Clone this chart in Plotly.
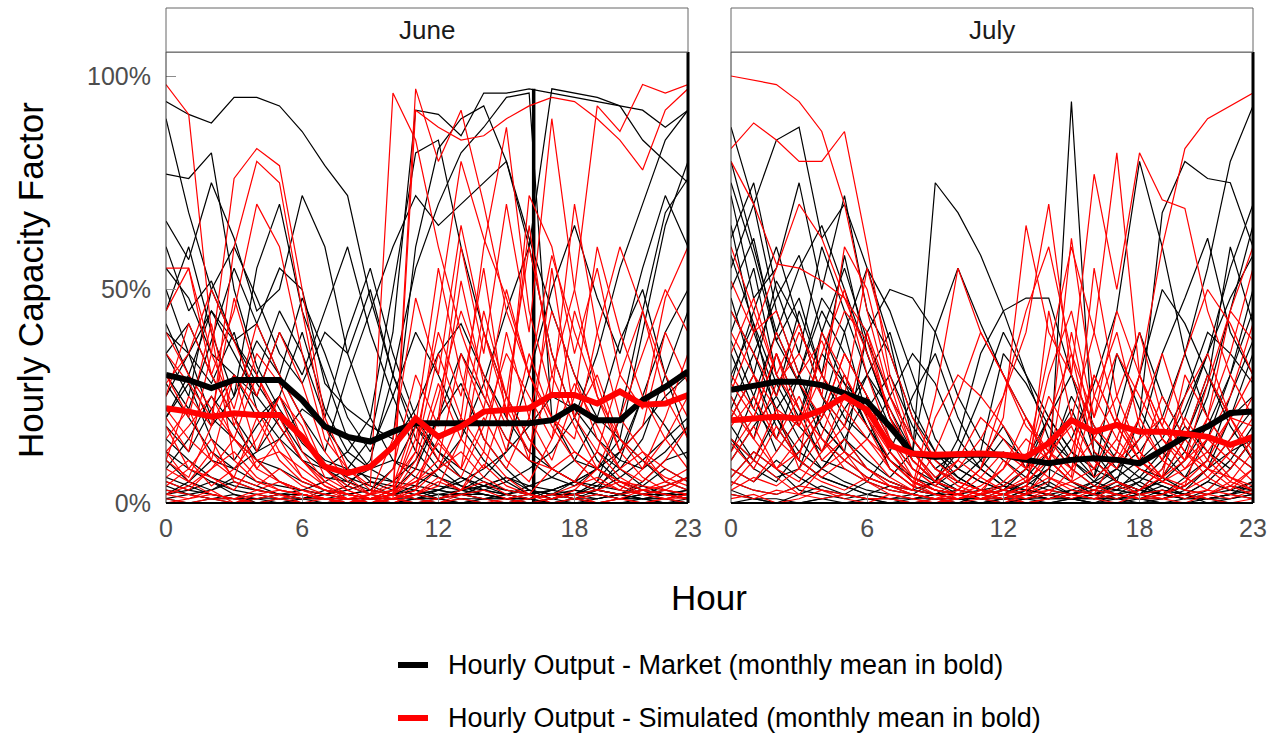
import plotly.graph_objects as go

HOURS = list(range(24))

# Daily hourly capacity factor (%) - June, market output
june_market = [
    [94, 91, 89, 95, 95, 93, 87, 79, 72, 48, 30, 18, 10, 6, 4, 3, 2, 3, 2, 1, 2, 3, 2, 1],
    [90, 68, 50, 38, 28, 20, 12, 8, 5, 3, 2, 1, 1, 2, 3, 5, 8, 12, 20, 35, 55, 70, 85, 92],
    [77, 76, 82, 50, 32, 22, 14, 9, 6, 4, 2, 1, 2, 3, 4, 6, 4, 3, 5, 8, 12, 18, 25, 30],
    [66, 57, 75, 62, 45, 50, 72, 60, 35, 20, 10, 8, 6, 4, 3, 2, 1, 2, 1, 3, 6, 10, 15, 20],
    [5, 3, 2, 1, 1, 2, 3, 5, 8, 15, 40, 92, 91, 86, 96, 96, 97, 96, 95, 94, 93, 85, 80, 75],
    [40, 35, 45, 38, 42, 55, 50, 28, 22, 18, 15, 60, 83, 90, 93, 80, 62, 45, 30, 20, 15, 40, 65, 80],
    [45, 60, 40, 25, 55, 70, 45, 30, 15, 8, 5, 10, 20, 28, 15, 8, 3, 2, 5, 12, 8, 4, 2, 3],
    [30, 22, 38, 55, 42, 30, 48, 35, 20, 12, 25, 40, 30, 18, 10, 5, 2, 1, 3, 2, 1, 2, 4, 6],
    [20, 28, 15, 10, 18, 25, 40, 22, 12, 8, 10, 6, 4, 3, 2, 1, 0, 1, 2, 5, 20, 45, 68, 76],
    [12, 8, 5, 3, 2, 1, 1, 2, 4, 10, 30, 55, 70, 82, 88, 95, 96, 20, 10, 8, 5, 3, 2, 2],
    [8, 15, 25, 18, 10, 5, 3, 2, 1, 1, 2, 4, 8, 15, 28, 45, 60, 97, 96, 95, 93, 92, 88, 92],
    [3, 2, 1, 1, 0, 0, 1, 2, 3, 5, 4, 3, 2, 1, 1, 0, 0, 1, 2, 3, 2, 1, 1, 0],
    [15, 10, 6, 4, 3, 2, 2, 1, 1, 0, 1, 2, 3, 2, 1, 1, 2, 3, 5, 4, 3, 2, 2, 1],
    [55, 48, 35, 30, 20, 25, 15, 10, 8, 6, 5, 4, 3, 2, 2, 1, 1, 2, 2, 3, 10, 25, 40, 50],
    [25, 35, 20, 15, 10, 8, 5, 3, 2, 3, 8, 18, 12, 6, 3, 2, 1, 0, 1, 2, 1, 1, 2, 3],
    [2, 5, 10, 8, 12, 20, 15, 8, 4, 2, 1, 0, 1, 3, 6, 12, 30, 50, 65, 48, 35, 55, 72, 60],
    [10, 5, 3, 6, 4, 2, 1, 1, 0, 1, 3, 8, 20, 35, 25, 15, 10, 6, 4, 8, 15, 10, 5, 3],
    [35, 42, 30, 20, 12, 15, 22, 18, 10, 5, 3, 2, 1, 2, 4, 6, 3, 2, 1, 1, 2, 4, 8, 5],
    [18, 12, 22, 30, 25, 18, 10, 6, 5, 8, 14, 22, 35, 42, 30, 20, 12, 8, 5, 3, 2, 5, 10, 12],
    [6, 4, 2, 1, 1, 1, 2, 1, 0, 0, 1, 1, 2, 2, 1, 1, 1, 2, 1, 0, 1, 1, 2, 1],
    [42, 30, 18, 25, 38, 30, 20, 12, 30, 45, 60, 72, 65, 70, 75, 80, 60, 35, 20, 10, 5, 3, 2, 1],
    [1, 2, 3, 5, 3, 2, 1, 1, 2, 3, 2, 1, 1, 0, 1, 2, 4, 6, 10, 20, 38, 50, 30, 15],
    [50, 35, 28, 40, 22, 15, 10, 8, 12, 20, 50, 82, 85, 60, 40, 25, 15, 8, 5, 3, 2, 1, 1, 2],
    [28, 20, 12, 8, 5, 4, 3, 2, 1, 1, 1, 2, 3, 5, 8, 12, 18, 25, 22, 15, 10, 8, 12, 18],
    [4, 2, 1, 0, 1, 2, 1, 0, 0, 1, 2, 3, 1, 0, 1, 2, 3, 1, 0, 1, 2, 1, 0, 1],
    [60, 45, 52, 38, 30, 45, 35, 20, 40, 55, 35, 20, 12, 8, 5, 3, 2, 1, 2, 4, 8, 15, 30, 45],
    [2, 3, 5, 2, 1, 0, 1, 3, 2, 1, 0, 1, 3, 6, 4, 2, 1, 3, 5, 8, 4, 2, 1, 0],
    [1, 0, 1, 2, 0, 1, 0, 0, 1, 0, 0, 1, 0, 1, 0, 0, 1, 0, 1, 0, 0, 1, 0, 0],
    [20, 30, 45, 35, 25, 40, 30, 45, 60, 40, 25, 12, 6, 3, 2, 1, 1, 2, 3, 2, 1, 2, 3, 2],
    [35, 25, 50, 60, 48, 35, 28, 40, 35, 50, 30, 15, 8, 4, 2, 1, 0, 1, 2, 5, 12, 25, 18, 10],
]

# Daily hourly capacity factor (%) - June, simulated output
june_sim = [
    [98, 91, 40, 10, 5, 3, 2, 1, 1, 2, 3, 5, 8, 12, 6, 3, 2, 1, 2, 3, 5, 4, 3, 2],
    [55, 55, 30, 45, 70, 60, 35, 15, 8, 4, 96, 85, 60, 40, 25, 15, 10, 8, 5, 3, 2, 3, 5, 8],
    [20, 12, 35, 76, 83, 79, 50, 20, 8, 3, 2, 97, 80, 92, 70, 45, 30, 20, 12, 8, 5, 3, 2, 1],
    [10, 25, 18, 60, 80, 75, 45, 18, 6, 2, 1, 92, 88, 85, 86, 90, 93, 95, 94, 90, 85, 78, 92, 97],
    [5, 3, 8, 15, 30, 20, 10, 5, 2, 1, 3, 15, 40, 25, 55, 20, 65, 30, 50, 93, 87, 98, 96, 98],
    [30, 20, 42, 18, 35, 28, 15, 8, 4, 2, 5, 12, 35, 20, 60, 88, 45, 25, 70, 40, 20, 12, 8, 5],
    [15, 22, 10, 30, 12, 25, 18, 6, 3, 1, 2, 8, 25, 45, 30, 18, 72, 60, 35, 55, 30, 45, 25, 15],
    [8, 5, 12, 6, 20, 10, 5, 3, 2, 1, 1, 4, 15, 8, 40, 25, 10, 55, 20, 30, 15, 8, 20, 35],
    [40, 30, 22, 15, 10, 12, 8, 4, 2, 1, 0, 2, 5, 3, 12, 6, 2, 1, 3, 8, 4, 2, 1, 2],
    [25, 42, 30, 20, 8, 15, 6, 3, 1, 0, 1, 3, 20, 60, 35, 70, 40, 90, 50, 25, 12, 6, 3, 2],
    [3, 2, 1, 1, 2, 3, 2, 1, 0, 0, 1, 2, 1, 3, 5, 2, 1, 2, 4, 6, 3, 2, 1, 1],
    [12, 18, 25, 15, 8, 5, 3, 2, 1, 2, 8, 30, 18, 52, 28, 12, 35, 20, 15, 40, 60, 45, 30, 20],
    [6, 10, 4, 8, 15, 25, 12, 5, 2, 1, 2, 5, 10, 6, 18, 35, 25, 15, 45, 28, 12, 18, 40, 28],
    [35, 28, 20, 48, 30, 18, 10, 4, 1, 1, 3, 12, 45, 80, 62, 48, 30, 58, 40, 25, 15, 10, 6, 4],
    [18, 8, 15, 5, 3, 2, 1, 1, 0, 1, 2, 6, 14, 8, 20, 10, 5, 15, 28, 18, 8, 12, 5, 3],
    [2, 4, 8, 12, 6, 3, 2, 1, 1, 0, 1, 2, 4, 15, 8, 25, 60, 35, 20, 12, 30, 22, 48, 60],
    [45, 55, 35, 22, 42, 30, 20, 8, 3, 1, 2, 10, 28, 15, 45, 25, 15, 8, 12, 8, 20, 35, 50, 40],
    [10, 6, 18, 30, 22, 12, 6, 3, 2, 1, 1, 3, 8, 20, 12, 40, 20, 10, 25, 60, 40, 25, 15, 8],
    [22, 15, 10, 6, 4, 8, 4, 2, 1, 0, 2, 18, 55, 30, 15, 8, 20, 45, 30, 15, 8, 5, 10, 18],
    [0, 1, 2, 1, 0, 1, 2, 1, 0, 0, 1, 0, 1, 2, 1, 0, 1, 2, 1, 2, 1, 0, 1, 2],
    [28, 35, 50, 38, 25, 40, 28, 12, 5, 2, 4, 20, 10, 35, 22, 50, 30, 18, 10, 5, 3, 8, 15, 25],
    [4, 8, 6, 3, 10, 5, 3, 1, 1, 0, 0, 2, 6, 3, 9, 4, 2, 8, 5, 12, 6, 3, 4, 6],
    [2, 1, 3, 0, 1, 2, 0, 1, 0, 1, 2, 1, 0, 2, 3, 1, 0, 1, 2, 0, 1, 3, 2, 1],
    [12, 5, 2, 1, 3, 5, 2, 1, 0, 2, 15, 48, 30, 65, 40, 22, 12, 30, 18, 8, 5, 2, 3, 6],
    [1, 0, 1, 0, 2, 1, 0, 0, 1, 0, 1, 0, 0, 1, 0, 1, 2, 0, 1, 0, 1, 0, 1, 0],
]

# Daily hourly capacity factor (%) - July, market output
july_market = [
    [88, 70, 85, 88, 62, 70, 55, 45, 30, 15, 8, 5, 3, 2, 1, 3, 5, 8, 12, 20, 35, 55, 80, 93],
    [80, 60, 40, 55, 65, 50, 35, 20, 10, 5, 3, 2, 1, 2, 4, 94, 10, 5, 3, 2, 4, 8, 15, 22],
    [72, 48, 55, 75, 50, 72, 45, 35, 20, 12, 6, 3, 2, 1, 0, 1, 2, 5, 20, 68, 80, 76, 75, 60],
    [65, 40, 25, 45, 30, 58, 35, 20, 12, 75, 68, 58, 45, 30, 20, 12, 8, 5, 3, 2, 1, 2, 3, 5],
    [55, 70, 45, 30, 48, 40, 55, 38, 15, 8, 5, 3, 2, 4, 8, 15, 28, 45, 80, 60, 35, 20, 12, 8],
    [48, 30, 52, 42, 25, 18, 30, 22, 12, 6, 3, 2, 4, 8, 15, 10, 5, 3, 2, 6, 12, 25, 45, 65],
    [40, 55, 30, 20, 40, 55, 38, 25, 15, 8, 12, 25, 40, 30, 15, 8, 4, 2, 1, 1, 3, 8, 20, 35],
    [35, 22, 15, 30, 45, 35, 25, 15, 8, 5, 3, 2, 1, 1, 2, 1, 1, 2, 3, 5, 10, 18, 30, 45],
    [30, 42, 28, 18, 12, 22, 30, 18, 10, 5, 2, 1, 3, 8, 20, 30, 12, 5, 2, 1, 2, 5, 10, 18],
    [25, 15, 35, 22, 10, 8, 5, 3, 2, 1, 1, 0, 1, 2, 1, 2, 5, 12, 30, 50, 42, 30, 20, 25],
    [20, 30, 18, 10, 6, 4, 2, 1, 1, 2, 5, 10, 18, 8, 4, 2, 1, 1, 2, 3, 2, 1, 2, 5],
    [15, 8, 5, 12, 20, 30, 18, 10, 5, 3, 2, 1, 1, 0, 1, 1, 2, 1, 1, 2, 4, 8, 12, 15],
    [10, 18, 25, 15, 8, 5, 3, 2, 1, 1, 1, 2, 3, 5, 8, 5, 3, 2, 5, 10, 18, 12, 8, 15],
    [5, 3, 2, 4, 8, 15, 25, 12, 6, 3, 2, 1, 0, 1, 2, 3, 2, 1, 0, 1, 2, 5, 3, 2],
    [2, 1, 1, 0, 1, 2, 1, 1, 0, 0, 1, 1, 0, 1, 2, 1, 1, 2, 1, 0, 1, 1, 2, 1],
    [38, 25, 12, 20, 35, 28, 22, 30, 18, 10, 6, 3, 2, 1, 1, 2, 3, 6, 10, 15, 25, 40, 35, 28],
    [58, 42, 20, 10, 6, 4, 2, 1, 2, 5, 15, 35, 45, 48, 48, 30, 18, 10, 6, 4, 2, 1, 2, 4],
    [12, 25, 40, 28, 15, 10, 6, 4, 3, 5, 12, 8, 4, 2, 10, 25, 15, 8, 4, 2, 6, 15, 30, 50],
    [8, 5, 10, 6, 3, 2, 5, 12, 25, 35, 20, 10, 5, 3, 2, 1, 0, 1, 3, 8, 20, 35, 55, 70],
    [45, 35, 22, 30, 18, 12, 40, 50, 48, 40, 25, 15, 10, 6, 12, 22, 10, 5, 3, 2, 1, 1, 2, 3],
    [28, 45, 60, 42, 25, 15, 8, 5, 3, 2, 1, 1, 2, 5, 3, 2, 1, 1, 2, 4, 2, 1, 1, 2],
    [18, 10, 6, 8, 22, 40, 20, 8, 4, 2, 3, 8, 15, 10, 20, 12, 6, 20, 40, 25, 15, 30, 18, 10],
    [6, 12, 8, 3, 2, 1, 2, 4, 2, 1, 0, 2, 1, 3, 5, 2, 4, 3, 8, 6, 3, 2, 4, 3],
    [75, 58, 38, 28, 18, 12, 8, 5, 3, 2, 2, 3, 4, 3, 2, 1, 2, 4, 6, 12, 22, 35, 48, 58],
    [3, 1, 0, 2, 4, 2, 1, 0, 1, 2, 1, 0, 1, 3, 2, 1, 0, 2, 1, 3, 2, 0, 1, 2],
    [62, 75, 50, 35, 60, 45, 30, 40, 22, 12, 8, 5, 3, 2, 1, 2, 4, 8, 15, 35, 48, 62, 40, 30],
    [22, 35, 48, 58, 40, 28, 18, 10, 6, 4, 8, 12, 35, 28, 18, 10, 6, 35, 22, 12, 6, 10, 25, 38],
    [0, 1, 0, 0, 1, 0, 1, 0, 0, 1, 0, 0, 1, 0, 0, 1, 0, 0, 1, 0, 0, 1, 0, 0],
    [50, 62, 38, 48, 30, 20, 15, 25, 35, 28, 15, 8, 4, 2, 1, 1, 2, 3, 5, 2, 1, 3, 8, 15],
    [15, 10, 20, 12, 8, 15, 10, 6, 12, 40, 55, 42, 30, 20, 10, 5, 2, 1, 2, 6, 15, 28, 60, 42],
]

# Daily hourly capacity factor (%) - July, simulated output
july_sim = [
    [100, 99, 98, 94, 87, 70, 45, 25, 12, 5, 3, 2, 1, 2, 3, 5, 8, 15, 30, 60, 83, 90, 93, 96],
    [83, 89, 85, 80, 80, 87, 60, 30, 15, 8, 4, 2, 3, 5, 10, 20, 40, 82, 30, 15, 8, 12, 20, 30],
    [80, 70, 56, 55, 52, 48, 40, 20, 10, 5, 8, 15, 25, 40, 70, 30, 77, 50, 82, 71, 69, 45, 30, 20],
    [52, 40, 45, 30, 38, 25, 55, 35, 20, 10, 5, 3, 2, 4, 12, 62, 25, 15, 8, 5, 3, 2, 4, 8],
    [35, 48, 30, 42, 25, 60, 50, 28, 12, 6, 10, 20, 15, 8, 30, 45, 20, 35, 25, 15, 10, 20, 35, 55],
    [28, 20, 35, 18, 30, 22, 15, 10, 5, 3, 2, 4, 8, 20, 12, 6, 55, 25, 40, 20, 12, 8, 15, 25],
    [20, 30, 15, 25, 12, 18, 40, 25, 15, 8, 5, 3, 2, 1, 2, 8, 15, 10, 20, 35, 18, 10, 5, 12],
    [15, 10, 22, 8, 16, 30, 20, 12, 6, 3, 2, 1, 0, 2, 45, 20, 10, 5, 3, 8, 20, 12, 6, 4],
    [10, 18, 8, 12, 20, 35, 25, 12, 5, 2, 1, 2, 5, 10, 6, 3, 2, 12, 30, 18, 10, 28, 45, 38],
    [8, 5, 12, 20, 10, 15, 8, 4, 2, 1, 1, 3, 8, 15, 10, 5, 25, 40, 18, 10, 6, 3, 8, 15],
    [5, 3, 2, 4, 3, 2, 1, 1, 0, 1, 2, 1, 2, 4, 2, 1, 3, 5, 2, 1, 2, 3, 2, 1],
    [45, 35, 25, 40, 30, 45, 38, 20, 8, 4, 2, 1, 3, 6, 15, 8, 4, 2, 1, 2, 5, 10, 20, 18],
    [25, 15, 8, 5, 12, 25, 18, 8, 4, 25, 55, 40, 30, 20, 10, 5, 3, 2, 1, 2, 4, 8, 6, 3],
    [12, 20, 35, 22, 15, 8, 5, 3, 2, 1, 3, 8, 20, 65, 40, 30, 18, 12, 8, 5, 3, 6, 12, 20],
    [18, 25, 15, 10, 40, 30, 20, 10, 5, 3, 2, 1, 1, 2, 5, 12, 30, 18, 10, 25, 15, 8, 4, 2],
    [3, 6, 4, 8, 5, 3, 6, 4, 2, 1, 0, 1, 2, 1, 3, 2, 1, 4, 2, 3, 1, 2, 5, 3],
    [30, 22, 40, 28, 20, 35, 25, 15, 8, 4, 10, 6, 3, 2, 8, 40, 15, 25, 12, 6, 30, 20, 12, 8],
    [6, 12, 8, 15, 22, 12, 8, 5, 3, 2, 1, 2, 10, 5, 20, 35, 12, 8, 20, 10, 25, 35, 20, 12],
    [40, 30, 22, 18, 35, 50, 30, 15, 6, 3, 2, 1, 2, 3, 6, 4, 2, 1, 3, 6, 10, 15, 25, 42],
    [2, 1, 3, 2, 1, 2, 1, 1, 0, 0, 1, 2, 1, 0, 1, 2, 1, 2, 1, 1, 2, 1, 0, 1],
    [22, 15, 28, 35, 25, 18, 12, 6, 3, 20, 30, 25, 18, 10, 35, 60, 40, 20, 10, 5, 8, 15, 10, 5],
    [14, 8, 18, 10, 6, 10, 15, 8, 4, 2, 1, 2, 4, 8, 12, 18, 6, 10, 15, 20, 12, 6, 3, 8],
    [1, 2, 0, 1, 3, 1, 0, 2, 1, 0, 1, 3, 2, 0, 1, 2, 1, 0, 2, 1, 0, 2, 1, 3],
    [26, 40, 55, 70, 62, 48, 35, 22, 10, 5, 3, 8, 25, 45, 60, 35, 20, 45, 30, 18, 35, 50, 42, 30],
    [60, 45, 30, 22, 15, 10, 6, 4, 3, 12, 25, 40, 30, 18, 12, 8, 30, 18, 10, 6, 4, 20, 45, 60],
    [4, 10, 6, 2, 8, 12, 5, 2, 1, 0, 2, 6, 12, 8, 25, 15, 8, 20, 12, 6, 15, 30, 20, 10],
]

# Monthly mean profiles (%)
june_market_mean = [30.0, 28.8, 26.9, 28.8, 28.8, 28.8, 24.1, 17.9, 15.5, 14.4, 16.7, 18.7,
                    18.7, 18.7, 18.7, 18.7, 18.7, 19.4, 22.6, 19.4, 19.4, 24.1, 27.2, 30.8]
june_sim_mean = [22.2, 21.4, 20.2, 21.0, 20.6, 20.6, 15.5, 8.5, 7.0, 8.5, 13.2, 19.8,
                 15.5, 17.9, 21.4, 21.8, 22.2, 25.3, 25.3, 23.3, 26.1, 23.0, 23.3, 25.3]
july_market_mean = [26.5, 27.6, 28.4, 28.4, 27.6, 25.7, 23.7, 17.9, 11.6, 10.8, 11.3, 11.3,
                    11.3, 10.1, 9.3, 10.1, 10.5, 10.1, 9.3, 12.4, 15.5, 17.9, 21.1, 21.4]
july_sim_mean = [19.4, 19.8, 20.2, 19.8, 21.8, 24.9, 21.8, 13.5, 11.6, 11.3, 11.6, 11.6,
                 11.3, 10.8, 14.0, 19.4, 16.7, 18.3, 16.7, 16.7, 16.2, 15.5, 13.6, 15.5]

# Duplicate-hour reading in the June market series (hour 16)
june_market_jump_hours = [16.2, 16.2]
june_market_jump_values = [0, 97]

MONTHS = ["June", "July"]
Y_TICKS = [0, 50, 100]
Y_TICK_TEXT = ["0%", "50%", "100%"]
X_TICKS = [0, 6, 12, 18, 23]

MARKET_COLOR = "#000000"
SIM_COLOR = "#ff0000"
LEGEND_ITEMS = [
    ("Hourly Output - Market (monthly mean in bold)", MARKET_COLOR),
    ("Hourly Output - Simulated (monthly mean in bold)", SIM_COLOR),
]

W, H = 1278, 736
PLOT_TOP, PLOT_BOTTOM = 52, 503
PLOT_H = PLOT_BOTTOM - PLOT_TOP
STRIP_TOP = 8
panels_px = [(166, 688), (731, 1253)]
THIN = 1.2
BOLD = 6


def py(pix):
    """Page pixel row -> paper y."""
    return (PLOT_BOTTOM - pix) / PLOT_H


fig = go.Figure()

panel_data = [
    ("x", "y", june_market, june_sim, june_market_mean, june_sim_mean),
    ("x2", "y2", july_market, july_sim, july_market_mean, july_sim_mean),
]

for i, (xa, ya, mkt, sim, mkt_mean, sim_mean) in enumerate(panel_data):
    for day in mkt:
        fig.add_trace(go.Scatter(x=HOURS, y=day, mode="lines", xaxis=xa, yaxis=ya,
                                 line=dict(color=MARKET_COLOR, width=THIN),
                                 showlegend=False, hoverinfo="skip"))
    if i == 0:
        fig.add_trace(go.Scatter(x=june_market_jump_hours, y=june_market_jump_values,
                                 mode="lines", xaxis=xa, yaxis=ya,
                                 line=dict(color=MARKET_COLOR, width=3.5),
                                 showlegend=False, hoverinfo="skip"))
    for day in sim:
        fig.add_trace(go.Scatter(x=HOURS, y=day, mode="lines", xaxis=xa, yaxis=ya,
                                 line=dict(color=SIM_COLOR, width=THIN),
                                 showlegend=False, hoverinfo="skip"))
    fig.add_trace(go.Scatter(x=HOURS, y=mkt_mean, mode="lines", xaxis=xa, yaxis=ya,
                             line=dict(color=MARKET_COLOR, width=BOLD),
                             showlegend=False, hoverinfo="skip"))
    fig.add_trace(go.Scatter(x=HOURS, y=sim_mean, mode="lines", xaxis=xa, yaxis=ya,
                             line=dict(color=SIM_COLOR, width=BOLD),
                             showlegend=False, hoverinfo="skip"))

FONT = "Liberation Sans, Arial, sans-serif"
axis_font = dict(family=FONT, size=25, color="#4d4d4d")
y_top = (PLOT_BOTTOM - PLOT_TOP) / 4.27

layout = dict(
    width=W, height=H,
    margin=dict(l=0, r=0, t=PLOT_TOP, b=H - PLOT_BOTTOM),
    paper_bgcolor="white", plot_bgcolor="white",
    font=dict(family=FONT, color="#000000"),
    showlegend=False,
)
shapes = []
annotations = []
for i, (x0, x1) in enumerate(panels_px):
    sfx = "" if i == 0 else "2"
    layout["xaxis" + sfx] = dict(
        domain=[x0 / W, x1 / W], range=[0, 23], tickvals=X_TICKS,
        ticks="inside", ticklen=10, tickcolor="#8c8c8c", tickfont=axis_font,
        showgrid=False, zeroline=False, showline=False, anchor="y" + sfx,
        ticklabelstandoff=8, automargin=False, fixedrange=True,
    )
    layout["yaxis" + sfx] = dict(
        domain=[0, 1], range=[0, y_top], tickvals=Y_TICKS,
        ticktext=Y_TICK_TEXT if i == 0 else ["", "", ""],
        ticks="inside" if i == 0 else "", ticklen=10, tickcolor="#8c8c8c",
        tickfont=axis_font, showgrid=False, zeroline=False, showline=False,
        anchor="x" + sfx, ticklabelstandoff=14, automargin=False, fixedrange=True,
    )
    # panel frame
    shapes.append(dict(type="rect", xref="paper", yref="paper",
                       x0=x0 / W, x1=x1 / W, y0=0, y1=1,
                       line=dict(color="#333333", width=1), layer="above"))
    # heavy right edge
    shapes.append(dict(type="line", xref="paper", yref="paper",
                       x0=x1 / W, x1=x1 / W, y0=0, y1=1,
                       line=dict(color="#000000", width=3), layer="above"))
    # bottom edge
    shapes.append(dict(type="line", xref="paper", yref="paper",
                       x0=x0 / W, x1=x1 / W, y0=0, y1=0,
                       line=dict(color="#000000", width=2), layer="above"))
    # facet strip
    strip_y1 = py(STRIP_TOP)
    shapes.append(dict(type="rect", xref="paper", yref="paper",
                       x0=x0 / W, x1=x1 / W, y0=1, y1=strip_y1,
                       line=dict(color="#666666", width=1), fillcolor="white",
                       layer="above"))
    annotations.append(dict(text=MONTHS[i], xref="paper", yref="paper",
                            x=(x0 + x1) / 2 / W, y=(1 + strip_y1) / 2,
                            showarrow=False, xanchor="center", yanchor="middle",
                            font=dict(size=26, color="#1a1a1a")))

annotations.append(dict(text="Hourly Capacity Factor", xref="paper", yref="paper",
                        x=30 / W, y=py(280), textangle=-90,
                        showarrow=False, xanchor="center", yanchor="middle",
                        font=dict(size=35, color="#000000")))
annotations.append(dict(text="Hour", xref="paper", yref="paper",
                        x=709 / W, y=py(597),
                        showarrow=False, xanchor="center", yanchor="middle",
                        font=dict(size=35, color="#000000")))

# legend keys and labels
for k, (label, color) in enumerate(LEGEND_ITEMS):
    row = 665 + 53 * k
    shapes.append(dict(type="line", xref="paper", yref="paper",
                       x0=398 / W, x1=428 / W, y0=py(row), y1=py(row),
                       line=dict(color=color, width=6)))
    annotations.append(dict(text=label, xref="paper", yref="paper",
                            x=446 / W, y=py(row), showarrow=False,
                            xanchor="left", yanchor="middle",
                            font=dict(size=27, color="#000000")))

layout["shapes"] = shapes
layout["annotations"] = annotations
fig.update_layout(**layout)

fig.write_html("out.html", config={"displayModeBar": False},
               post_script="document.body.style.margin='0';")
